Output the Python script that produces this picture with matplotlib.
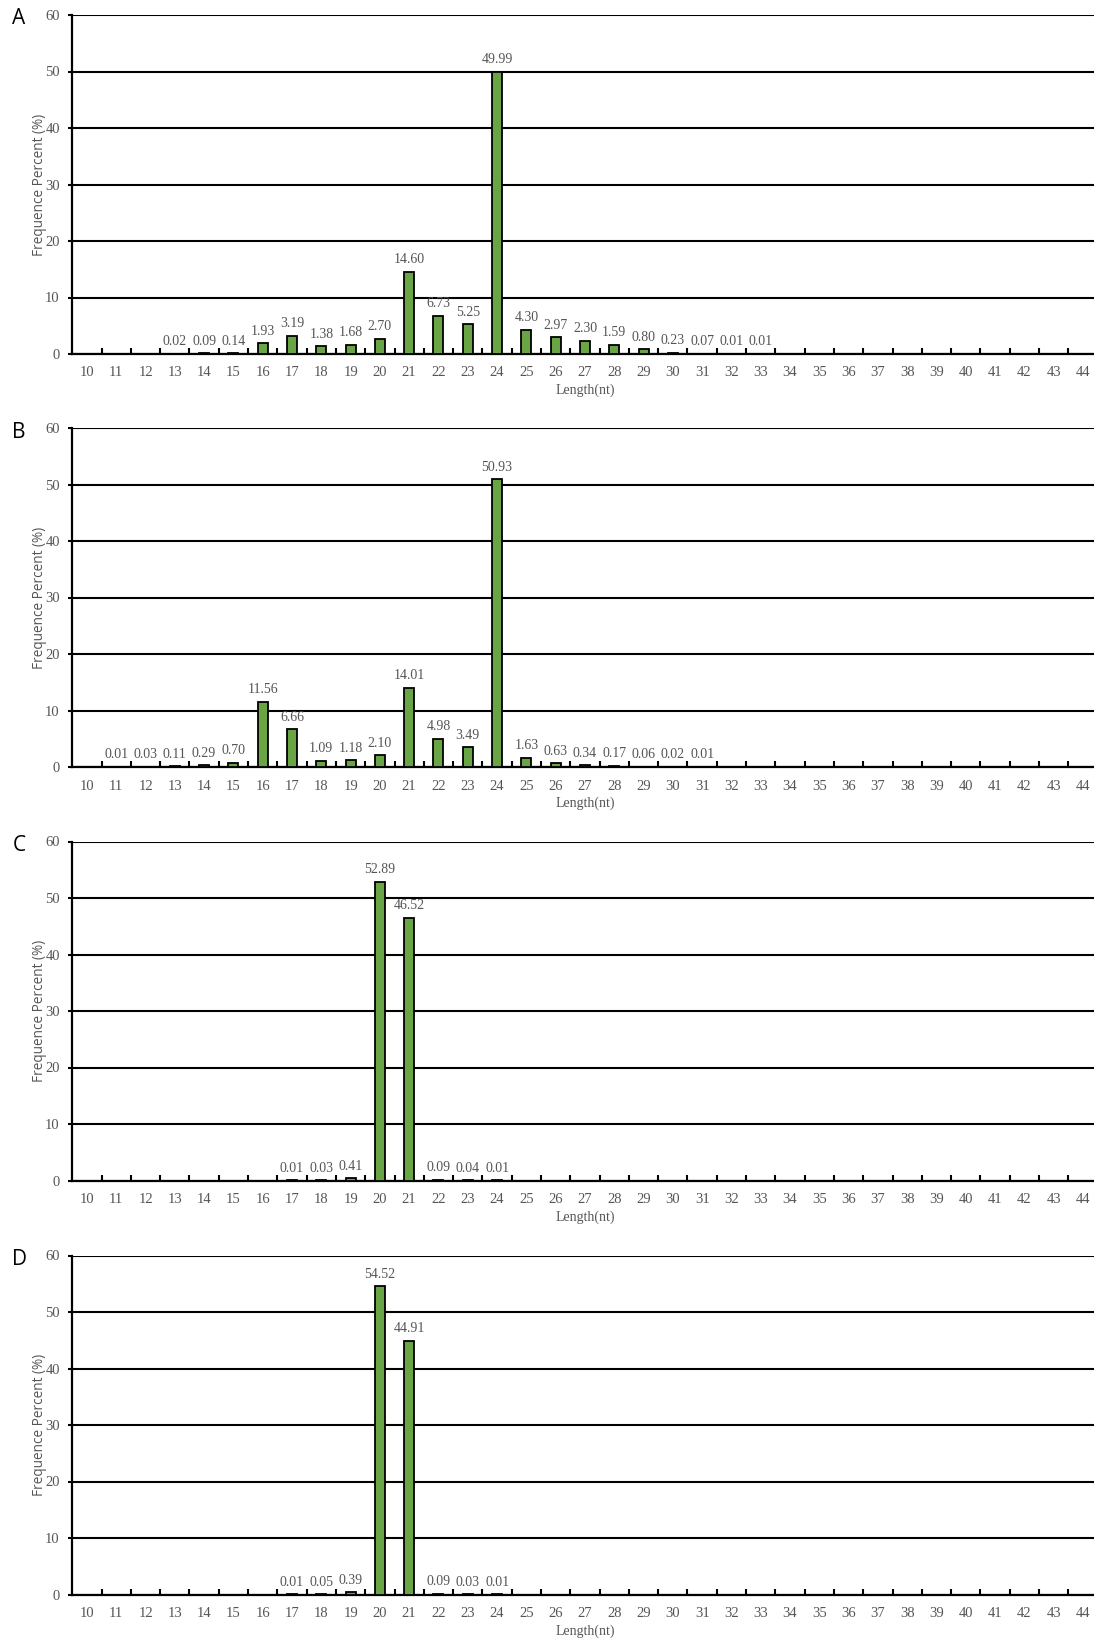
import matplotlib
matplotlib.use("Agg")
import matplotlib.pyplot as plt
from matplotlib.ticker import FixedLocator

# Read lengths (nt) shown on the x axis
lengths = list(range(10, 45))

# Frequency (%) per read length for each library; lengths not listed are 0
lengths_A = [13, 14, 15, 16, 17, 18, 19, 20, 21, 22, 23, 24, 25, 26, 27, 28, 29, 30, 31, 32, 33]
values_A = [0.02, 0.09, 0.14, 1.93, 3.19, 1.38, 1.68, 2.70, 14.60, 6.73, 5.25, 49.99,
            4.30, 2.97, 2.30, 1.59, 0.80, 0.23, 0.07, 0.01, 0.01]

lengths_B = [11, 12, 13, 14, 15, 16, 17, 18, 19, 20, 21, 22, 23, 24, 25, 26, 27, 28, 29, 30, 31]
values_B = [0.01, 0.03, 0.11, 0.29, 0.70, 11.56, 6.66, 1.09, 1.18, 2.10, 14.01, 4.98,
            3.49, 50.93, 1.63, 0.63, 0.34, 0.17, 0.06, 0.02, 0.01]

lengths_C = [17, 18, 19, 20, 21, 22, 23, 24]
values_C = [0.01, 0.03, 0.41, 52.89, 46.52, 0.09, 0.04, 0.01]

lengths_D = [17, 18, 19, 20, 21, 22, 23, 24]
values_D = [0.01, 0.05, 0.39, 54.52, 44.91, 0.09, 0.03, 0.01]

panel_letters = ["A", "B", "C", "D"]
y_ticks = [0, 10, 20, 30, 40, 50, 60]

BAR_COLOR = "#69A545"
TEXT_GRAY = "#555555"
SERIF = ["Liberation Serif", "DejaVu Serif"]
SANS = ["Open Sans", "DejaVu Sans"]

fig = plt.figure(figsize=(10.94, 16.38), dpi=100)

W, H = 1094.0, 1638.0
left_px, right_px = 72.3, 1097.6
top_px = [15.0, 428.0, 841.5, 1255.5]
plot_h_px = 339.0

panels = [(lengths_A, values_A), (lengths_B, values_B),
          (lengths_C, values_C), (lengths_D, values_D)]

for letter, (xs, vals), tp in zip(panel_letters, panels, top_px):
    ax = fig.add_axes([left_px / W, 1 - (tp + plot_h_px) / H,
                       (right_px - left_px) / W, plot_h_px / H])
    ax.set_axisbelow(True)
    ax.bar(xs, vals, width=0.34, color=BAR_COLOR, edgecolor="black",
           linewidth=1.3, zorder=3)
    for x, v in zip(xs, vals):
        ax.annotate(f"{v:.2f}", (x, v), xytext=(0, 4), textcoords="offset points",
                    ha="center", va="bottom", fontsize=10, color=TEXT_GRAY,
                    family=SERIF, zorder=4)

    ax.set_xlim(9.5, 44.5)
    ax.set_ylim(0, 60)
    ax.set_yticks(y_ticks)
    ax.set_xticks(lengths)
    ax.xaxis.set_minor_locator(FixedLocator([i + 0.5 for i in range(10, 44)]))

    ax.yaxis.grid(True, color="black", linewidth=1.5)
    for s in ["top", "right"]:
        ax.spines[s].set_visible(False)
    ax.spines["left"].set_linewidth(1.6)
    ax.spines["bottom"].set_linewidth(1.6)

    ax.tick_params(axis="x", which="major", length=0, pad=9)
    ax.tick_params(axis="x", which="minor", direction="in", length=4,
                   width=1.5, color="black")
    ax.tick_params(axis="y", which="major", direction="out", length=3,
                   width=1.5, pad=6)
    for lab in ax.get_xticklabels() + ax.get_yticklabels():
        lab.set_family(SERIF)
        lab.set_fontsize(10.5)
        lab.set_color(TEXT_GRAY)

    ax.set_xlabel("Length(nt)", family=SERIF, fontsize=10, color=TEXT_GRAY,
                  labelpad=3)
    ax.set_ylabel("Frequence Percent (%)", family=SANS, fontsize=9.8,
                  color=TEXT_GRAY)
    ax.yaxis.set_label_coords((47 - left_px) / (right_px - left_px), 0.5)

    fig.text(19 / W, 1 - (tp + 4) / H, letter, ha="center", va="center",
             fontsize=15, family=SANS, color="black")

fig.savefig("out.png", dpi=100)
